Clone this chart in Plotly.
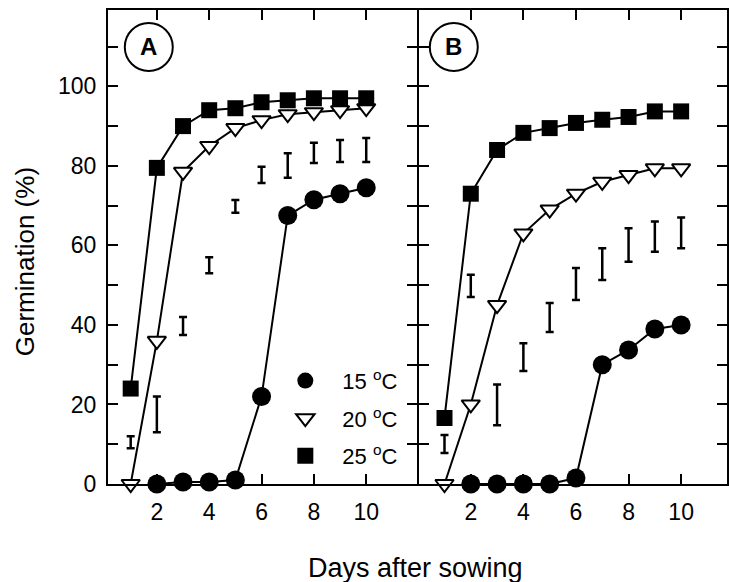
import plotly.graph_objects as go

days = [1, 2, 3, 4, 5, 6, 7, 8, 9, 10]
days_15 = [2, 3, 4, 5, 6, 7, 8, 9, 10]

# Panel A
a_15 = [0, 0.5, 0.5, 1, 22, 67.5, 71.5, 73, 74.5]
a_20 = [0, 36, 78.5, 85, 89.5, 91.5, 93, 93.5, 94, 94.5]
a_25 = [24, 79.5, 90, 94, 94.5, 96, 96.5, 97, 97, 97]
a_err_lo = [9, 13, 37.5, 53, 68.2, 75.7, 77, 80.7, 81, 81]
a_err_hi = [12, 22, 42, 57, 71.4, 79.8, 83.2, 85.8, 86.5, 87]

# Panel B
b_15 = [0, 0, 0, 0, 1.5, 30, 33.7, 39, 40]
b_20 = [0, 20, 45, 63, 69, 73, 76, 77.7, 79.4, 79.4]
b_25 = [16.6, 73, 84, 88.3, 89.5, 90.8, 91.6, 92.3, 93.7, 93.7]
b_err_lo = [7.8, 47, 14.8, 28.4, 38.2, 46.3, 51.3, 55.9, 58.4, 59.3]
b_err_hi = [12.3, 52.6, 25, 35.4, 45.5, 54.3, 59.3, 64.3, 66, 67]

series_names = ["15 <sup>o</sup>C", "20 <sup>o</sup>C", "25 <sup>o</sup>C"]
x_ticks = [2, 4, 6, 8, 10]
y_ticks = [0, 10, 20, 30, 40, 50, 60, 70, 80, 90, 100, 110]
y_ticktext = ["0", "", "20", "", "40", "", "60", "", "80", "", "100", ""]
panel_labels = ["A", "B"]

FONT = "Liberation Sans, Arial, sans-serif"

circle_m = dict(symbol="circle", size=19, color="black")
tri_m = dict(symbol="triangle-down", size=16, color="white", line=dict(color="black", width=2))
sq_m = dict(symbol="square", size=16, color="black")

fig = go.Figure()

def add_panel(xa, ya, s15, s20, s25, elo, ehi):
    for xs, ys, m in [(days_15, s15, circle_m), (days, s20, tri_m), (days, s25, sq_m)]:
        fig.add_trace(go.Scatter(
            x=xs, y=ys, mode="lines+markers", showlegend=False,
            line=dict(color="black", width=2), marker=m,
            xaxis=xa, yaxis=ya, cliponaxis=False))
    mid = [(l + h) / 2 for l, h in zip(elo, ehi)]
    half = [(h - l) / 2 for l, h in zip(elo, ehi)]
    fig.add_trace(go.Scatter(
        x=days, y=mid, mode="markers", showlegend=False,
        marker=dict(size=1, color="rgba(0,0,0,0)"),
        error_y=dict(type="data", array=half, symmetric=True,
                     color="black", thickness=2.5, width=4),
        xaxis=xa, yaxis=ya, cliponaxis=False))

add_panel("x", "y", a_15, a_20, a_25, a_err_lo, a_err_hi)
add_panel("x2", "y2", b_15, b_20, b_25, b_err_lo, b_err_hi)

# legend-only entries (markers without lines, as in the reference)
for name, m, g in zip(series_names, [circle_m, tri_m, sq_m], ["g15", "g20", "g25"]):
    fig.add_trace(go.Scatter(x=[None], y=[None], mode="markers", name=name,
                             legendgroup=g, marker=m, xaxis="x", yaxis="y"))

axis_common = dict(showline=True, linecolor="black", linewidth=2, mirror="ticks",
                   ticks="inside", ticklen=10, tickwidth=1.5, tickcolor="black",
                   showgrid=False, zeroline=False,
                   tickfont=dict(family=FONT, size=23, color="black"))

fig.update_layout(
    width=729, height=582,
    margin=dict(l=108, r=0, t=10, b=98),
    plot_bgcolor="white", paper_bgcolor="white",
    font=dict(family=FONT, color="black"),
    xaxis=dict(domain=[0, 0.4992], range=[0.133, 11.94], tickvals=x_ticks,
               ticklabelstandoff=6, **axis_common),
    xaxis2=dict(domain=[0.5024, 1.0], range=[0.03, 11.744], tickvals=x_ticks,
                ticklabelstandoff=6, **axis_common),
    yaxis=dict(range=[0, 119.2], tickvals=y_ticks, ticktext=y_ticktext,
               ticklabelstandoff=5, **axis_common),
    yaxis2=dict(range=[0, 119.2], tickvals=y_ticks, ticktext=[""] * len(y_ticks),
                anchor="x2", **axis_common),
    showlegend=True,
    legend=dict(x=0.259, y=0.262, xanchor="left", yanchor="top",
                bgcolor="rgba(0,0,0,0)", tracegroupgap=6,
                font=dict(family=FONT, size=22, color="black"),
                itemwidth=64),
)

fig.add_annotation(text="Germination (%)", xref="paper", yref="paper",
                   x=-0.134, y=0.468, textangle=-90, showarrow=False,
                   xanchor="center", yanchor="middle",
                   font=dict(family=FONT, size=26, color="black"))
fig.add_annotation(text="Days after sowing", xref="paper", yref="paper",
                   x=0.496, y=-0.177, showarrow=False,
                   xanchor="center", yanchor="middle",
                   font=dict(family=FONT, size=27, color="black"))

label_pos = [("x domain", "y domain", 0.132), ("x2 domain", "y2 domain", 0.113)]
for lab, (xr, yr, xc) in zip(panel_labels, label_pos):
    fig.add_shape(type="circle", xref=xr, yref=yr, xsizemode="pixel", ysizemode="pixel",
                  xanchor=xc, yanchor=0.922, x0=-24, x1=24, y0=-24, y1=24,
                  line=dict(color="black", width=2))
    fig.add_annotation(text="<b>%s</b>" % lab, xref=xr, yref=yr, x=xc, y=0.922,
                       showarrow=False, xanchor="center", yanchor="middle",
                       font=dict(family=FONT, size=24, color="black"))

fig.write_html("out.html")
